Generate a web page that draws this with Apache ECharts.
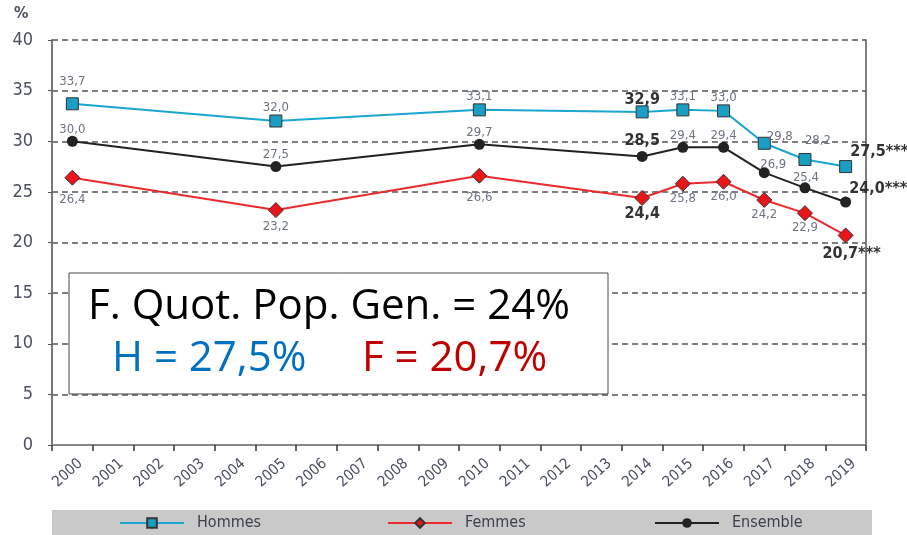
<!DOCTYPE html>
<html lang="fr">
<head>
<meta charset="UTF-8"/>
<script src="https://cdn.jsdelivr.net/npm/echarts@6/dist/echarts.min.js"></script>
<title>Hommes / Femmes / Ensemble</title>
<style>
    html, body { margin: 0; padding: 0; background: #fff; }
    #main { width: 907px; height: 535px; }
</style>
</head>
<body>
<div id="main"></div>
<script type="text/javascript">
// axe des années
var years = ['2000','2001','2002','2003','2004','2005','2006','2007','2008','2009',
             '2010','2011','2012','2013','2014','2015','2016','2017','2018','2019'];
// années mesurées
var surveyYears = ['2000','2005','2010','2014','2015','2016','2017','2018','2019'];
var hommes   = [33.7, 32.0, 33.1, 32.9, 33.1, 33.0, 29.8, 28.2, 27.5];
var femmes   = [26.4, 23.2, 26.6, 24.4, 25.8, 26.0, 24.2, 22.9, 20.7];
var ensemble = [30.0, 27.5, 29.7, 28.5, 29.4, 29.4, 26.9, 25.4, 24.0];
var yTicks = [0, 5, 10, 15, 20, 25, 30, 35, 40];

// placement des étiquettes (position, décalage)
var posH = [['top',[0,-9]],['top',[0,0]],['top',[0,0]],['top',[0,2]],['top',[0,0]],['top',[0,0]],
            ['right',[-4,-7]],['top',[13,-6]],['right',[-2,-15]]];
var posE = [['top',[0,0]],['top',[0,0]],['top',[0,0]],['top',[0,-2]],['top',[0,0]],['top',[0,0]],
            ['top',[9,4]],['top',[1,2]],['right',[-2,-13]]];
var posF = [['bottom',[0,7]],['bottom',[0,2]],['bottom',[0,7]],['bottom',[0,0]],['bottom',[0,0]],['bottom',[0,0]],
            ['bottom',[0,0]],['bottom',[0,0]],['bottom',[6,2]]];

var FONT = "'DejaVu Sans Condensed', 'Liberation Sans Narrow', 'Liberation Sans', sans-serif";
var BIG = "'Open Sans', 'Noto Sans', sans-serif";

function fmt(v) { return v.toFixed(1).replace('.', ','); }

function buildData(values, pos) {
    var out = [];
    for (var i = 0; i < values.length; i++) {
        var y = surveyYears[i];
        var item = { value: [y, values[i]], label: { position: pos[i][0], offset: pos[i][1] } };
        if (y === '2014' || y === '2019') {
            item.label.fontWeight = 'bold';
            item.label.fontSize = 16;
            item.label.color = '#333';
        }
        out.push(item);
    }
    return out;
}

function labelFormatter(p) {
    var t = fmt(p.value[1]);
    if (p.value[0] === '2019') t += '***';
    return t;
}

var legendText = { color: '#3a3f4a', fontSize: 16, fontFamily: FONT, padding: [0, 0, 0, 8] };

var chart = echarts.init(document.getElementById('main'));
var option = {
    animation: false,
    grid: { left: 52, right: 41, top: 40, bottom: 90 },
    xAxis: {
        type: 'category',
        data: years,
        boundaryGap: true,
        axisLine: { lineStyle: { color: '#888', width: 2 } },
        axisTick: { show: true, length: 6, lineStyle: { color: '#333', width: 1.5 } },
        axisLabel: { interval: 0, rotate: 42, color: '#4a5060', fontSize: 15, fontFamily: FONT,
                     margin: 24, padding: [0, -11, 0, 0] }
    },
    yAxis: [{
        type: 'value',
        min: yTicks[0],
        max: yTicks[yTicks.length - 1],
        interval: 5,
        axisLine: { show: true, lineStyle: { color: '#777', width: 2 } },
        axisTick: { show: true, length: 4, lineStyle: { color: '#555' } },
        axisLabel: { color: '#4a5060', fontSize: 18, fontFamily: FONT, margin: 19 },
        splitLine: { lineStyle: { color: '#555', width: 1.5, type: [6, 4] } }
    }, {
        type: 'value',
        position: 'right',
        min: 0, max: 40, interval: 5,
        axisLine: { show: true, lineStyle: { color: '#555', width: 1.5 } },
        axisTick: { show: false },
        axisLabel: { show: false },
        splitLine: { show: false }
    }],
    legend: [
        { data: ['Hommes'], left: 119, top: 515, padding: 0, itemWidth: 64, itemHeight: 12, textStyle: legendText },
        { data: ['Femmes'], left: 387, top: 515, padding: 0, itemWidth: 64, itemHeight: 12, textStyle: legendText },
        { data: ['Ensemble'], left: 654, top: 515, padding: 0, itemWidth: 64, itemHeight: 12, textStyle: legendText }
    ],
    graphic: [
        { type: 'rect', z: -1, shape: { x: 52, y: 510, width: 820, height: 25 },
          style: { fill: '#c9c9c9' } },
        { type: 'text', left: 14, top: 6,
          style: { text: '%', fill: '#4a5060', font: "bold 16px " + FONT } },
        { type: 'rect', z: 100, shape: { x: 69, y: 273, width: 539, height: 121 },
          style: { fill: '#fff', stroke: '#444', lineWidth: 1 } },
        { type: 'text', z: 101,
          style: { x: 329, y: 307, align: 'center', verticalAlign: 'middle',
                   text: 'F. Quot. Pop. Gen. = 24%', fill: '#000', font: "42px " + BIG } },
        { type: 'text', z: 101,
          style: { x: 112, y: 359, align: 'left', verticalAlign: 'middle',
                   text: 'H = 27,5%', fill: '#0070c0', font: "42px " + BIG } },
        { type: 'text', z: 101,
          style: { x: 362, y: 359, align: 'left', verticalAlign: 'middle',
                   text: 'F = 20,7%', fill: '#c00000', font: "42px " + BIG } }
    ],
    series: [{
        name: 'Hommes',
        type: 'line',
        data: buildData(hommes, posH),
        symbol: 'rect',
        symbolSize: 12,
        lineStyle: { color: '#1aa7cf', width: 2 },
        itemStyle: { color: '#1a9ec4', borderColor: '#333', borderWidth: 1 },
        label: { show: true, formatter: labelFormatter, color: '#6b7480', fontSize: 13, fontFamily: FONT, distance: 0 }
    }, {
        name: 'Femmes',
        type: 'line',
        data: buildData(femmes, posF),
        symbol: 'diamond',
        symbolSize: 15,
        lineStyle: { color: '#ec2a2e', width: 2 },
        itemStyle: { color: '#e8151b', borderColor: '#333', borderWidth: 1 },
        label: { show: true, formatter: labelFormatter, color: '#6b7480', fontSize: 13, fontFamily: FONT, distance: 0 }
    }, {
        name: 'Ensemble',
        type: 'line',
        data: buildData(ensemble, posE),
        symbol: 'circle',
        symbolSize: 11,
        lineStyle: { color: '#222', width: 2 },
        itemStyle: { color: '#222' },
        label: { show: true, formatter: labelFormatter, color: '#6b7480', fontSize: 13, fontFamily: FONT, distance: 0 }
    }]
};
chart.setOption(option);
</script>
</body>
</html>
